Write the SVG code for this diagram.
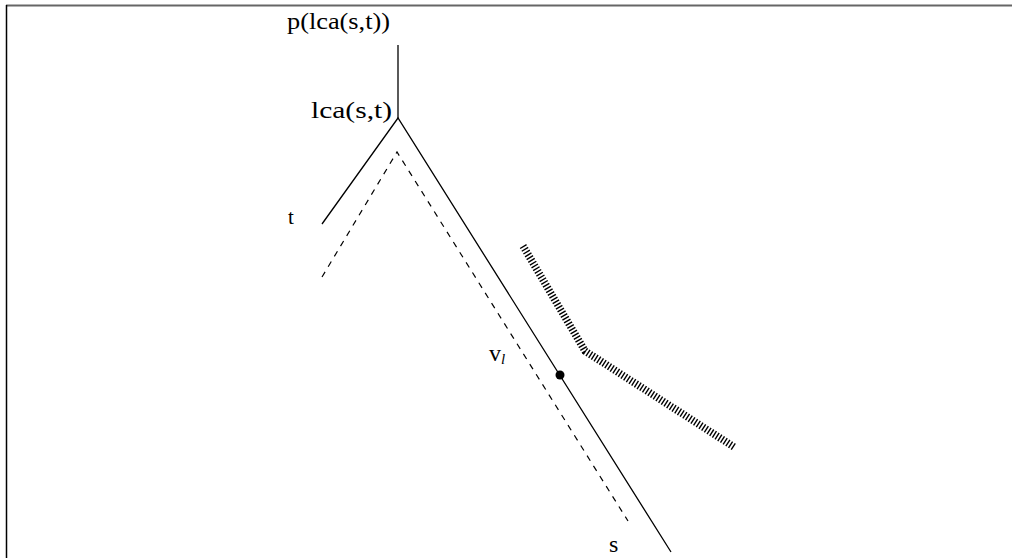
<svg xmlns="http://www.w3.org/2000/svg" width="1012" height="558" viewBox="0 0 1012 558">
<style>
.txt{font-family:"Liberation Serif","Times New Roman",serif;fill:#000}
.solid{stroke:#000;stroke-width:1.3;fill:none}
.dash{stroke:#000;stroke-width:1.2;fill:none;stroke-dasharray:6 6}
.hatch{stroke:#000;stroke-width:7.5;fill:none;stroke-dasharray:1.4 1.8}
</style>
<rect width="1012" height="558" fill="#fff"/>
<g id="frame">
<line x1="6" y1="5.5" x2="1012" y2="5.5" stroke="#666" stroke-width="2"/>
<line x1="6.5" y1="5" x2="6.5" y2="558" stroke="#000" stroke-width="1.5"/>
</g>
<g id="connectors">
<line class="solid" x1="398" y1="45" x2="398" y2="118"/>
<polyline class="solid" points="322,224 398,118 671,552"/>
<polyline class="dash" points="322,277 397,152 628,521"/>
<polyline class="hatch" points="523,246 585,351 734,447"/>
</g>
<g id="node-p"><text class="txt" x="287" y="29" font-size="24" textLength="103" lengthAdjust="spacingAndGlyphs">p(lca(s,t))</text></g>
<g id="node-lca"><text class="txt" x="311" y="118" font-size="24" textLength="81" lengthAdjust="spacingAndGlyphs">lca(s,t)</text></g>
<g id="node-t"><text class="txt" x="288" y="224" font-size="21">t</text></g>
<g id="node-vl"><circle cx="560" cy="375" r="4.5" fill="#000"/><text class="txt" x="489" y="361" font-size="24">v<tspan font-size="15" font-style="italic" dy="3">l</tspan></text></g>
<g id="node-s"><text class="txt" x="609" y="552" font-size="24">s</text></g>
</svg>
